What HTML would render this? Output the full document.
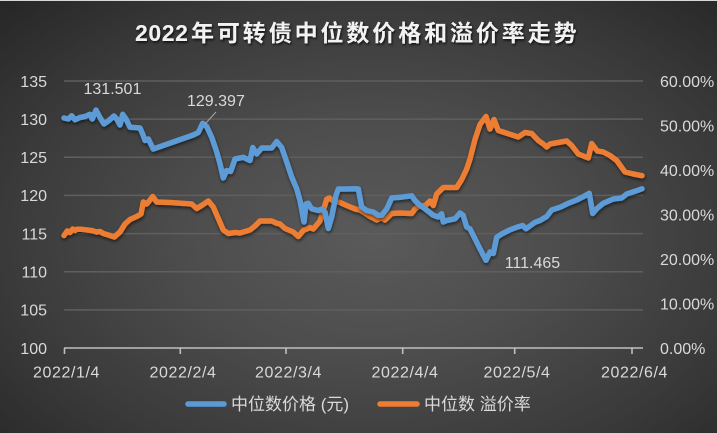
<!DOCTYPE html>
<html>
<head>
<meta charset="utf-8">
<style>
  html,body{margin:0;padding:0;}
  body{width:717px;height:433px;overflow:hidden;}
  .chart{position:relative;width:717px;height:433px;
    background:radial-gradient(ellipse farthest-corner at 52% 55%, #5a5a5a 0%, #4d4d4d 35%, #3a3a3a 70%, #262626 100%);}
  svg{position:absolute;left:0;top:0;}
  text{font-family:"Liberation Sans","Noto Sans CJK SC",sans-serif;}
</style>
</head>
<body>
<div class="chart">
<svg width="717" height="433" viewBox="0 0 717 433" xmlns="http://www.w3.org/2000/svg">
  <defs>
    <filter id="sh" x="-5%" y="-5%" width="110%" height="115%">
      <feDropShadow dx="0.5" dy="2" stdDeviation="1.5" flood-color="#000" flood-opacity="0.55"/>
    </filter>
    <filter id="tsh" x="-5%" y="-20%" width="110%" height="150%">
      <feDropShadow dx="1" dy="1.5" stdDeviation="1.2" flood-color="#000" flood-opacity="0.8"/>
    </filter>
  </defs>
  <rect x="0" y="0" width="717" height="1" fill="#d8d8d8"/>

  <!-- Title -->
  <g filter="url(#tsh)" fill="#f2f2f2" font-weight="bold" font-size="23">
    <text x="135" y="41" letter-spacing="0.6">2022</text>
    <text x="191" y="41" letter-spacing="2.9">年可转债中位数价格和溢价率走势</text>
  </g>

  <!-- gridlines -->
  <g stroke="#5f5f5f" stroke-width="1.5">
    <line x1="64" y1="81" x2="643" y2="81"/>
    <line x1="64" y1="119.1" x2="643" y2="119.1"/>
    <line x1="64" y1="157.3" x2="643" y2="157.3"/>
    <line x1="64" y1="195.4" x2="643" y2="195.4"/>
    <line x1="64" y1="233.6" x2="643" y2="233.6"/>
    <line x1="64" y1="271.7" x2="643" y2="271.7"/>
    <line x1="64" y1="309.9" x2="643" y2="309.9"/>
  </g>
  <!-- axis -->
  <g stroke="#bfbfbf" stroke-width="1.6">
    <line x1="64" y1="348" x2="643" y2="348"/>
    <line x1="64.5" y1="348" x2="64.5" y2="354"/>
    <line x1="180.3" y1="348" x2="180.3" y2="354"/>
    <line x1="286" y1="348" x2="286" y2="354"/>
    <line x1="402.7" y1="348" x2="402.7" y2="354"/>
    <line x1="514.7" y1="348" x2="514.7" y2="354"/>
    <line x1="632" y1="348" x2="632" y2="354"/>
  </g>

  <!-- left axis labels -->
  <g fill="#d9d9d9" font-size="16" text-anchor="end">
    <text x="47" y="86.8">135</text>
    <text x="47" y="124.9">130</text>
    <text x="47" y="163.1">125</text>
    <text x="47" y="201.2">120</text>
    <text x="47" y="239.4">115</text>
    <text x="47" y="277.5">110</text>
    <text x="47" y="315.7">105</text>
    <text x="47" y="353.8">100</text>
  </g>
  <!-- right axis labels -->
  <g fill="#d9d9d9" font-size="16" text-anchor="start">
    <text x="660" y="86.8">60.00%</text>
    <text x="660" y="131.3">50.00%</text>
    <text x="660" y="175.8">40.00%</text>
    <text x="660" y="220.3">30.00%</text>
    <text x="660" y="264.8">20.00%</text>
    <text x="660" y="309.3">10.00%</text>
    <text x="660" y="353.8">0.00%</text>
  </g>
  <!-- x labels -->
  <g fill="#d9d9d9" font-size="16" text-anchor="middle" letter-spacing="0.6">
    <text x="66.5" y="377.5">2022/1/4</text>
    <text x="183" y="377.5">2022/2/4</text>
    <text x="288.5" y="377.5">2022/3/4</text>
    <text x="405" y="377.5">2022/4/4</text>
    <text x="517" y="377.5">2022/5/4</text>
    <text x="634.5" y="377.5">2022/6/4</text>
  </g>

  <!-- orange series -->
  <polyline filter="url(#sh)" fill="none" stroke="#ED7D31" stroke-width="5.5" stroke-linejoin="round" stroke-linecap="round"
    points="64,235.5 67.3,231 70,232.5 72.7,229 75,230.5 76.7,229.3 81.7,229.3 91.7,230.5 96.7,232 100,231.5 103.3,233.5 108.3,235 114.3,237 120,232 125,224 130,219.5 136.7,216.5 141,214 143.3,202 146.7,204 149.3,201 152.7,196.5 156.7,202 170,202.5 191.7,204 196.7,208.5 201.7,205.5 208.3,201 213.3,207 218.3,218.5 223.3,230 228.3,233.5 235,232.5 240,233 250,230 255,226 260,221 271.7,221 276.7,223.3 280,224 285,228.5 293.3,232 298.3,236.5 303.3,230.5 310,227.5 313.3,229 320,221 326.7,199.3 329.3,198 333.3,201 340,202.5 346.7,205.5 355,209 360,210 363.3,212 370,216.5 376.7,220 381.7,217.5 385,220 391.7,213.5 400,213 411.7,213.5 415,209 420,205.5 425,206 430,201 433.3,205.5 436.7,194 443.3,187.5 456.7,187.5 461.7,179.5 466.7,169 470,159 475,139.5 480,124.5 486,116.5 490,129 494,119.5 498.3,130.5 518.3,137 525,132.5 531.7,133.5 538.3,140.5 543.3,144 546.7,147 550,144 558.3,142.5 566.7,141 571.7,145.5 578.3,154 588.3,158 591.7,143.5 597.3,151 603.3,152 610,155.5 616.7,160.5 625,172 633.3,174 642,175.7"/>

  <!-- blue series -->
  <polyline filter="url(#sh)" fill="none" stroke="#5B9BD5" stroke-width="5.5" stroke-linejoin="round" stroke-linecap="round"
    points="64,118 68.3,119 71.7,115.8 75,119.8 80,117.5 85,116.5 90,114.3 92.3,119 96,110 100,117.5 104,124 108.3,121 114,116 116.7,119 120,125 122.7,114.3 126,119 130,127.3 140,128 142.7,134 145,140.5 148.3,139 153.3,149 193.3,135 198.3,132.5 202.7,123.3 206.7,126.5 211.7,137.3 216.7,152 220,163.8 223.3,178 226.7,170.5 230.7,171.5 235,159 243.3,157.3 250,160.5 252.7,147.5 256.7,154 261.7,148 271.7,148 276.7,141.5 281.7,147.5 286.7,162 291.7,177 296.7,188.8 300,200.5 304,222 306,204 308.3,203.3 311.7,208.8 318.3,210.5 321.7,209 325,212 328.3,228.5 331.7,217 336,195.5 338.3,189 345,189 355,188.7 358.3,189 361.7,207 366.7,210.5 373.3,212 378.3,215.3 381.7,215.3 386.7,209 391.7,198 400,197.3 411.7,195.8 415,200.5 420,205.5 425,208.8 433.3,215.3 438.3,217 441.7,213.8 443.3,222 446.7,220.5 455,218.8 460,213 463.3,215.5 466.7,227 470,228.8 475,238.8 480,248.8 486,260.3 490,252 493.3,253.5 496.7,237.3 501.7,234 510,229.8 516.7,227.3 522.7,225.5 526,228.8 535,222.3 540,220.5 546.7,216.5 551.7,210 560,207.3 568.3,203.3 576.7,200 583.3,196.7 589.3,193.3 592.7,213.5 596.7,208.8 603.3,203.3 613.3,199 621.7,198 626.7,194 635,191.3 642,188.8"/>

  <!-- data labels -->
  <g fill="#d9d9d9" font-size="16">
    <text x="83.5" y="94">131.501</text>
    <text x="187" y="106">129.397</text>
    <text x="504.7" y="268">111.465</text>
  </g>
  <line x1="216" y1="112" x2="205" y2="124" stroke="#a6a6a6" stroke-width="1"/>

  <!-- legend -->
  <line x1="188" y1="404" x2="224" y2="404" stroke="#5B9BD5" stroke-width="5.5" stroke-linecap="round"/>
  <text x="231" y="410" fill="#d9d9d9" font-size="17">中位数价格 (元)</text>
  <line x1="380" y1="404" x2="417" y2="404" stroke="#ED7D31" stroke-width="5.5" stroke-linecap="round"/>
  <text x="424" y="410" fill="#d9d9d9" font-size="17">中位数 溢价率</text>
</svg>
</div>
</body>
</html>
